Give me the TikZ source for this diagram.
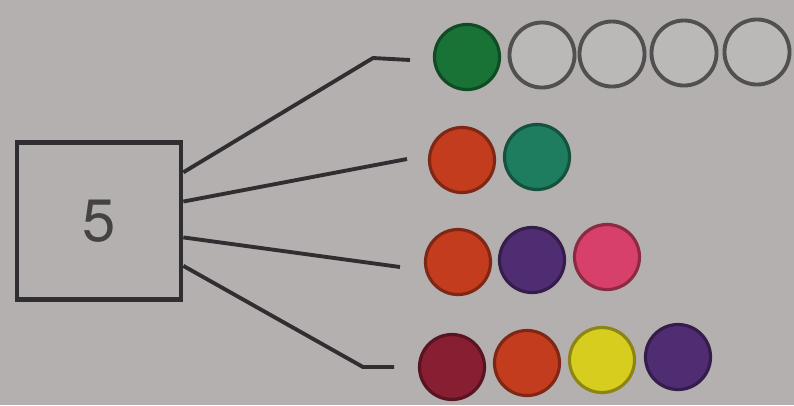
\documentclass[tikz,border=0pt]{standalone}
\usepackage{fontspec}
\setsansfont{TeX Gyre Heros}
\usetikzlibrary{positioning}
\definecolor{paper}{RGB}{180,176,176}
\definecolor{ink}{RGB}{48,46,48}
\definecolor{grn}{RGB}{25,115,55}
\definecolor{teal}{RGB}{30,125,95}
\definecolor{redo}{RGB}{195,60,30}
\definecolor{purp}{RGB}{80,45,115}
\definecolor{pink}{RGB}{215,65,105}
\definecolor{maroon}{RGB}{135,30,50}
\definecolor{yell}{RGB}{215,205,30}
\tikzset{
  bead/.style={circle,draw=#1!65!black,fill=#1,line width=0.9pt,minimum size=0.65cm,inner sep=0pt},
  ring/.style={circle,draw=ink!75!paper,fill=paper!90!white,line width=1.1pt,minimum size=0.65cm,inner sep=0pt},
  wire/.style={ink,line width=1.1pt,line join=round}
}
\begin{document}
\begin{tikzpicture}[x=0.01cm,y=-0.01cm]
  \fill[paper] (0,0) rectangle (794,405);
  \useasboundingbox (0,0) rectangle (794,405);
  \node[draw=ink,line width=1.3pt,minimum width=1.64cm,minimum height=1.57cm,
        text=ink!85!paper,font=\sffamily\fontsize{17}{17}\selectfont] (box) at (99,221) {5};
  \path
  (373,58) coordinate (k1)
  (410,60) coordinate (e1)
  (407,159) coordinate (e2)
  (400,267) coordinate (e3)
  (363,367) coordinate (k4)
  (394,367) coordinate (e4);
  % rows of beads
  \path
  (467,57) node[bead=grn] (a1) {}
  (542,55) node[ring] (a2) {}
  (612,54) node[ring] (a3) {}
  (684,53) node[ring] (a4) {}
  (757,52) node[ring] (a5) {}
  (462,160) node[bead=redo] (b1) {}
  (537,157) node[bead=teal] (b2) {}
  (458,262) node[bead=redo] (c1) {}
  (532,260) node[bead=purp] (c2) {}
  (607,257) node[bead=pink] (c3) {}
  (452,367) node[bead=maroon] (d1) {}
  (527,363) node[bead=redo] (d2) {}
  (602,360) node[bead=yell] (d3) {}
  (678,357) node[bead=purp] (d4) {};
  \draw[wire] (box.30)--(k1)--(e1);
  \draw[wire] (box.13)--(e2);
  \draw[wire] (box.-11)--(e3);
  \draw[wire] (box.-28)--(k4)--(e4);
\end{tikzpicture}
\end{document}
